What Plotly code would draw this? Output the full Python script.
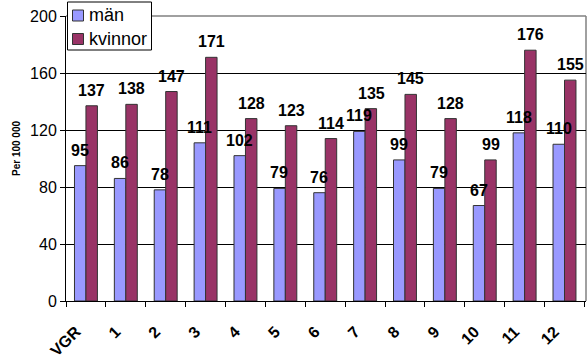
import plotly.graph_objects as go

# Regions and rates per 100 000 inhabitants
regions = ["VGR", "1", "2", "3", "4", "5", "6", "7", "8", "9", "10", "11", "12"]
man = [95, 86, 78, 111, 102, 79, 76, 119, 99, 79, 67, 118, 110]
kvinnor = [137, 138, 147, 171, 128, 123, 114, 135, 145, 128, 99, 176, 155]

series_names = ["män", "kvinnor"]
series_colors = ["#9999FF", "#993366"]
y_ticks = [0, 40, 80, 120, 160, 200]

FONT = "Liberation Sans, Arial, sans-serif"

# plot-area geometry in pixels (used to place the hand-drawn legend)
L, T, W, H = 66, 16, 520, 285


def px_x(px):
    return (px - L) / W


def px_y(py):
    return (T + H - py) / H


fig = go.Figure()
for name, vals, col in zip(series_names, [man, kvinnor], series_colors):
    fig.add_trace(go.Bar(
        name=name, x=regions, y=vals,
        marker=dict(color=col, line=dict(color="#333333", width=1)),
        showlegend=False,
    ))

# value labels above each bar
annotations = []
for vals, shift in [(man, -6), (kvinnor, 6)]:
    for reg, v in zip(regions, vals):
        annotations.append(dict(
            x=reg, y=v, xref="x", yref="y", text=f"<b>{v}</b>",
            showarrow=False, xanchor="center", yanchor="bottom",
            xshift=shift, yshift=5,
            font=dict(family=FONT, size=16, color="black"),
        ))

# y-axis title
annotations.append(dict(
    text="<b>Per 100 000</b>", textangle=-90,
    xref="paper", yref="paper", x=px_x(16), y=px_y(149),
    xanchor="center", yanchor="middle", showarrow=False,
    font=dict(family=FONT, size=10, color="black"),
))

# legend: framed box with two coloured squares and labels
shapes = [
    dict(type="rect", xref="paper", yref="paper",
         x0=px_x(67.5), x1=px_x(151.5), y0=px_y(50), y1=px_y(2),
         line=dict(color="black", width=1), fillcolor="white", layer="above"),
]
for i, (name, col) in enumerate(zip(series_names, series_colors)):
    top = 10 + i * 23.5
    shapes.append(dict(
        type="rect", xref="paper", yref="paper",
        x0=px_x(72.5), x1=px_x(83.5), y0=px_y(top + 11), y1=px_y(top),
        line=dict(color="#333333", width=1), fillcolor=col, layer="above",
    ))
    annotations.append(dict(
        text=name, xref="paper", yref="paper",
        x=px_x(87), y=px_y(top + 5.5), xanchor="left", yanchor="middle",
        showarrow=False, font=dict(family=FONT, size=18, color="black"),
    ))

# grey frame along the top and right of the plot area
shapes += [
    dict(type="line", xref="paper", yref="paper", x0=0, x1=1, y0=1, y1=1,
         line=dict(color="#808080", width=1.5), layer="below"),
    dict(type="line", xref="paper", yref="paper", x0=1, x1=1, y0=0, y1=1,
         line=dict(color="#808080", width=1.5), layer="below"),
]

fig.update_layout(
    width=587, height=358,
    margin=dict(l=L, r=587 - L - W, t=T, b=358 - T - H),
    paper_bgcolor="white", plot_bgcolor="white",
    barmode="group", bargap=0.425, bargroupgap=0,
    font=dict(family=FONT, size=16, color="black"),
    showlegend=False,
    xaxis=dict(
        type="category", tickangle=-45, automargin=False,
        tickfont=dict(family=FONT, size=16, color="black", weight="bold"),
        ticks="outside", ticklen=5, tickcolor="black", tickson="boundaries",
        ticklabelstandoff=14, ticklabelshift=-10,
        showline=True, linecolor="black", linewidth=1,
        showgrid=False,
    ),
    yaxis=dict(
        range=[0, 200], tickvals=y_ticks, automargin=False,
        tickfont=dict(family=FONT, size=16, color="black"),
        ticks="outside", ticklen=5, tickcolor="black",
        showline=True, linecolor="black", linewidth=1,
        showgrid=True, gridcolor="black", gridwidth=1,
        zeroline=False,
    ),
    annotations=annotations,
    shapes=shapes,
)

fig.write_html("out.html")
